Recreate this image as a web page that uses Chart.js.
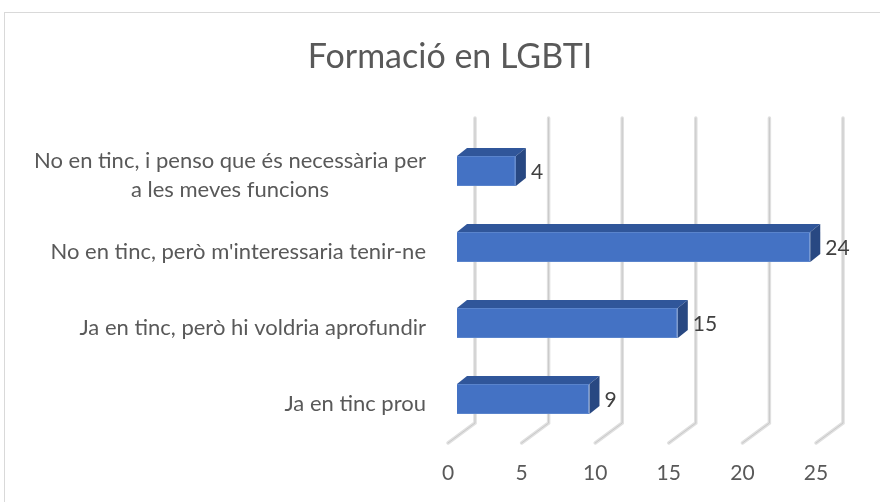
<!DOCTYPE html>
<html>
<head>
<meta charset="utf-8">
<script src="https://cdn.jsdelivr.net/npm/chart.js@4.4.1/dist/chart.umd.min.js"></script>
<style>
  body { margin: 0; background: #fff; }
  canvas { display: block; }
</style>
</head>
<body>
<canvas id="chart" width="880" height="502"></canvas>
<script>
// data
const categories = [
  ['No en tinc, i penso que és necessària per', 'a les meves funcions'],
  "No en tinc, però m'interessaria tenir-ne",
  'Ja en tinc, però hi voldria aprofundir',
  'Ja en tinc prou'
]
const answers = [4, 24, 15, 9]
const xTicks = [0, 5, 10, 15, 20, 25]
const chartTitle = 'Formació en LGBTI'

const FONT = 'Lato, "Open Sans", sans-serif'
const DEPTH_X = 10, DEPTH_Y = 8   /* bar depth */
const WALL_X = 18, FLOOR_X = -9   /* back wall / front floor offsets */

const fake3d = {
  id: 'fake3d',
  beforeDatasetsDraw(chart) {
    const ctx = chart.ctx
    const xs = chart.scales.x
    const area = chart.chartArea
    ctx.save()
    // outer frame
    ctx.strokeStyle = '#d9d9d9'
    ctx.lineWidth = 1
    ctx.strokeRect(4.5, 12.5, 1000, 1000)

    // title
    ctx.fillStyle = '#595959'
    ctx.font = '34px ' + FONT
    ctx.textAlign = 'center'
    ctx.textBaseline = 'middle'
    ctx.fillText(chartTitle, 450, 57)

    // grid: back wall lines + floor edges
    const wallTop = area.top - 15, wallBottom = area.bottom - 14
    xTicks.forEach(v => {
      const px = xs.getPixelForValue(v)
      const bx = px + WALL_X, fx = px + FLOOR_X
      ctx.lineCap = 'round'
      ctx.strokeStyle = '#e0e0e0'
      ctx.lineWidth = 3.5
      ctx.beginPath()
      ctx.moveTo(bx, wallTop); ctx.lineTo(bx, wallBottom); ctx.lineTo(fx, wallBottom + 20)
      ctx.stroke()
      ctx.strokeStyle = '#c9c9c9'
      ctx.lineWidth = 1
      ctx.stroke()
      // tick label
      ctx.fillStyle = '#595959'
      ctx.font = '21px ' + FONT
      ctx.textAlign = 'center'
      ctx.textBaseline = 'middle'
      ctx.fillText(String(v), fx, 473)
    })

    // category labels, block right aligned, lines centred
    const ys = chart.scales.y
    ctx.font = '22px ' + FONT
    ctx.fillStyle = '#595959'
    categories.forEach((lab, i) => {
      const lines = Array.isArray(lab) ? lab : [lab]
      const w = Math.max(...lines.map(l => ctx.measureText(l).width))
      const cx = 426 - w / 2
      const cy = ys.getPixelForValue(i) + 4.5
      const lh = 29
      lines.forEach((l, j) => {
        ctx.fillText(l, cx, cy + (j - (lines.length - 1) / 2) * lh)
      })
    })
    ctx.restore()
  },
  afterDatasetsDraw(chart) {
    const ctx = chart.ctx
    const meta = chart.getDatasetMeta(0)
    ctx.save()
    meta.data.forEach((bar, i) => {
      const { x, y, base, height } = bar.getProps(['x', 'y', 'base', 'height'], true)
      const top = y - height / 2, bottom = y + height / 2
      // top face
      ctx.fillStyle = '#30569a'
      ctx.beginPath()
      ctx.moveTo(base, top); ctx.lineTo(base + DEPTH_X, top - DEPTH_Y)
      ctx.lineTo(x + DEPTH_X, top - DEPTH_Y); ctx.lineTo(x, top)
      ctx.closePath(); ctx.fill()
      // side face
      ctx.fillStyle = '#284882'
      ctx.beginPath()
      ctx.moveTo(x, top); ctx.lineTo(x + DEPTH_X, top - DEPTH_Y)
      ctx.lineTo(x + DEPTH_X, bottom - DEPTH_Y); ctx.lineTo(x, bottom)
      ctx.closePath(); ctx.fill()
      // value label
      ctx.fillStyle = '#404040'
      ctx.font = '21px ' + FONT
      ctx.textAlign = 'left'
      ctx.textBaseline = 'middle'
      ctx.fillText(String(answers[i]), x + DEPTH_X + 5, y + 1)
    })
    ctx.restore()
  }
}

new Chart(document.getElementById('chart'), {
  type: 'bar',
  data: {
    labels: categories,
    datasets: [{
      data: answers,
      backgroundColor: '#4472c4',
      borderColor: '#5a84cc',
      borderWidth: 1,
      categoryPercentage: 1,
      barPercentage: 0.395
    }]
  },
  options: {
    indexAxis: 'y',
    responsive: false,
    animation: false,
    layout: { padding: { left: 457, right: 55, top: 133, bottom: 65 } },
    scales: {
      x: { display: false, min: 0, max: 25 },
      y: { display: false }
    },
    plugins: {
      legend: { display: false },
      title: { display: false },
      tooltip: { enabled: false }
    }
  },
  plugins: [fake3d]
})
</script>
</body>
</html>
